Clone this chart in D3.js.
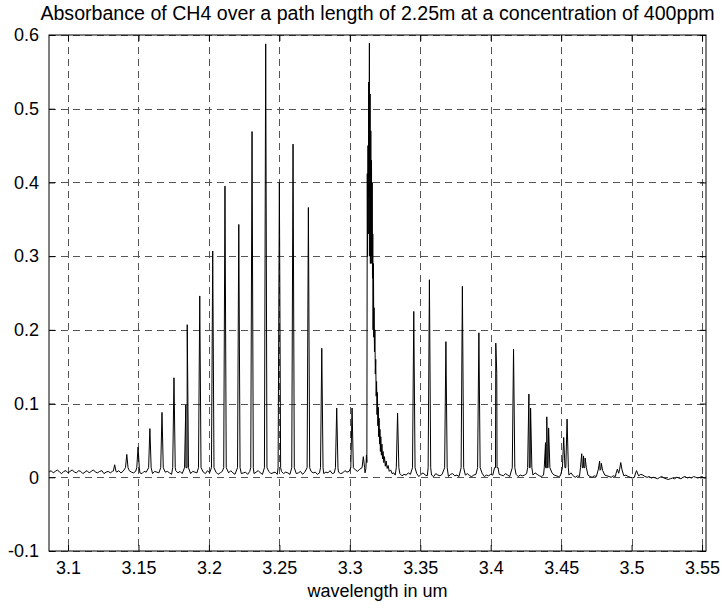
<!DOCTYPE html>
<html>
<head>
<meta charset="utf-8">
<script src="https://cdn.jsdelivr.net/npm/d3@7"></script>
<style>
  body { margin: 0; background: #fff; }
  text { font-family: Arial, "Liberation Sans", sans-serif; fill: #000; }
</style>
</head>
<body>
<svg id="chart"></svg>
<script>
const titleText = "Absorbance of CH4 over a path length of 2.25m at a concentration of 400ppm";
const xLabel = "wavelength in um";
const xTicks = [3.1, 3.15, 3.2, 3.25, 3.3, 3.35, 3.4, 3.45, 3.5, 3.55];
const yTicks = [-0.1, 0, 0.1, 0.2, 0.3, 0.4, 0.5, 0.6];
const xRange = [3.0865, 3.5528];
const yRange = [-0.1, 0.6];

// single absorption lines: [wavelength um, absorbance]
const lines = [
    [3.1331, 0.017], [3.1417, 0.031], [3.1497, 0.041], [3.1581, 0.066],
    [3.1667, 0.088], [3.1752, 0.135], [3.1836, 0.098], [3.1846, 0.207],
    [3.1935, 0.246], [3.2027, 0.307], [3.2114, 0.395], [3.2212, 0.343],
    [3.2306, 0.469], [3.2403, 0.588], [3.2500, 0.400], [3.2597, 0.452],
    [3.2706, 0.366], [3.2801, 0.175], [3.2907, 0.094], [3.3016, 0.094],
    [3.3096, 0.028], [3.3339, 0.087], [3.3454, 0.225], [3.3565, 0.268],
    [3.3682, 0.184], [3.3799, 0.259], [3.3916, 0.196], [3.4036, 0.182],
    [3.4043, 0.141], [3.4162, 0.174], [3.4271, 0.113], [3.4283, 0.094],
    [3.4389, 0.047], [3.4398, 0.082], [3.4411, 0.067], [3.4518, 0.054],
    [3.4542, 0.079], [3.4646, 0.032], [3.4659, 0.029], [3.4670, 0.026],
    [3.4773, 0.022], [3.4785, 0.019], [3.4899, 0.011], [3.4923, 0.020],
    [3.5035, 0.009]
];

// dense Q-branch around 3.31 um
const qBranch = [
    [3.3108, 0.006], [3.3114, 0.012], [3.3118, 0.030], [3.3121, 0.020],
    [3.3124, 0.412], [3.3126, 0.300], [3.3129, 0.450], [3.3131, 0.330],
    [3.3134, 0.536], [3.3136, 0.380], [3.3139, 0.589], [3.3141, 0.300],
    [3.3144, 0.520], [3.3146, 0.290], [3.3149, 0.470], [3.3151, 0.300],
    [3.3154, 0.430], [3.3156, 0.290], [3.3159, 0.400], [3.3161, 0.270],
    [3.3163, 0.330], [3.3165, 0.200], [3.3168, 0.290], [3.3170, 0.190],
    [3.3172, 0.230], [3.3175, 0.170], [3.3178, 0.200], [3.3181, 0.140],
    [3.3184, 0.160], [3.3187, 0.110], [3.3190, 0.130], [3.3193, 0.085],
    [3.3196, 0.115], [3.3199, 0.070], [3.3202, 0.095], [3.3205, 0.055],
    [3.3208, 0.080], [3.3211, 0.045], [3.3214, 0.065], [3.3217, 0.035],
    [3.3220, 0.055], [3.3224, 0.030], [3.3228, 0.045], [3.3232, 0.025],
    [3.3236, 0.035], [3.3241, 0.020], [3.3246, 0.028], [3.3252, 0.015],
    [3.3258, 0.022], [3.3265, 0.012], [3.3272, 0.016], [3.3280, 0.008],
    [3.3290, 0.010], [3.3300, 0.005], [3.3312, 0.006], [3.3322, 0.003]
];

// noisy baseline, sampled every 0.0015 um, values in milli-absorbance
const sampleStep = 0.0015;
const baseLeftFrom = 3.0865;
const baseLeft = [
    7, 9, 6, 8, 10, 7, 5, 8, 9, 6, 8, 10, 7, 6, 9, 8, 5, 7, 9, 6, 8, 10, 7, 6, 8, 9, 5, 7, 8, 6,
    8, 5, 7, 9, 6, 8, 6, 5, 9, 7, 6, 8, 10, 6, 5, 8, 7, 9, 6, 5, 8, 7, 6, 9, 5, 7, 8, 6, 4, 7,
    9, 6, 8, 5, 7, 6, 9, 5, 8, 7, 6, 4, 8, 7, 5, 9,
    6, 8, 5, 7, 4, 6, 8, 7, 5, 6, 9, 6, 4, 7, 8, 5, 6, 7, 4, 8, 6, 5, 7, 9, 6, 4, 7, 6, 8, 5,
    6, 7, 4, 6, 8, 5, 7, 6, 4, 8, 7, 5, 6, 8, 4, 7, 6, 5, 8, 6, 7, 4, 6, 8, 5, 7, 6, 9, 5, 6,
    8, 7, 5, 6, 9, 7, 8, 6, 9, 10, 8, 11, 10, 12
];
const baseRightFrom = 3.3340;
const baseRight = [
    3, 5, 2, 4, 3, 6, 4, 2, 3, 5, 1, 4, 6, 3, 2, 4, 3, 1, 5, 3, 2, 4, 2, 3, 1, 4, 5, 2, 3, 1,
    4, 2, 3, 5, 2, 1, 3, 4, 2, 3, 5, 1, 3, 2, 4, 3, 1, 2, 4, 3, 2, 5, 3, 1, 3, 2, 4, 1, 3, 2,
    3, 5, 2, 4, 3, 6, 4, 2, 1, 3, 2, 3, 4, 6, 3, 2, 1, 2, 3, 4, 2, 3, 6, 2,
    0, 2, 1, 3, 4, 2, 3, 1, 0, 2, 1, 2, 0, 1, 3, 2, 1, 0, 2, 1, 0, -1, 1, 2, 3, 1, 0, -1, 0, 1,
    2, 4, 3, 1, 0, 1, -1, 0, -1, -2, 0, 1, -1, -2, -3, -2, -1, -2, 0, -1, -2, 0, 1, -1, 0, -1,
    1, 0, -1, 0, 1, -1, 0
];

const width = 722, height = 608;
const margin = {top: 35, right: 16, bottom: 57, left: 49};
const footW = 0.0009;

const svg = d3.select("#chart")
    .attr("width", width)
    .attr("height", height);

svg.append("rect").attr("width", width).attr("height", height).attr("fill", "#fff");

const x = d3.scaleLinear().domain(xRange).range([margin.left, width - margin.right]);
const y = d3.scaleLinear().domain(yRange).range([height - margin.bottom, margin.top]);

// build the trace: baseline + spike per line + Q-branch cluster
let baseline = baseLeft.map((v, i) => [baseLeftFrom + i * sampleStep, v / 1000])
    .concat(baseRight.map((v, i) => [baseRightFrom + i * sampleStep, v / 1000]));
let pts = baseline
    .filter(b => b[0] < 3.3104 || b[0] > 3.3325)
    .filter(b => !lines.some(l => Math.abs(l[0] - b[0]) < footW * 1.4));
for (let l of lines) {
    let foot = Math.min(0.013, l[1] * 0.5);
    pts.push([l[0] - footW, foot], [l[0], l[1]], [l[0] + footW, foot]);
}
pts = pts.concat(qBranch).sort((a, b) => a[0] - b[0]);

// grid
const grid = svg.append("g")
    .attr("stroke", "#555")
    .attr("stroke-width", 1)
    .attr("stroke-dasharray", "7,5")
    .attr("shape-rendering", "crispEdges");

grid.selectAll(".gx").data(xTicks).join("line")
    .attr("x1", d => Math.round(x(d)) + 0.5).attr("x2", d => Math.round(x(d)) + 0.5)
    .attr("y1", y(yRange[1])).attr("y2", y(yRange[0]));

grid.selectAll(".gy").data(yTicks).join("line")
    .attr("y1", d => Math.round(y(d)) + 0.5).attr("y2", d => Math.round(y(d)) + 0.5)
    .attr("x1", x(xRange[0])).attr("x2", x(xRange[1]));

svg.append("clipPath").attr("id", "clip")
    .append("rect")
    .attr("x", x(xRange[0])).attr("y", y(yRange[1]))
    .attr("width", x(xRange[1]) - x(xRange[0]))
    .attr("height", y(yRange[0]) - y(yRange[1]));

const line = d3.line().x(d => x(d[0])).y(d => y(d[1]));

svg.append("path")
    .datum(pts)
    .attr("clip-path", "url(#clip)")
    .attr("fill", "none")
    .attr("stroke", "#000")
    .attr("stroke-width", 1)
    .attr("d", line);

// axes: inward ticks on all four sides, MATLAB style
const tick = 6;
const fontSize = 18;
const fmt = d => String(d);
const axB = svg.append("g").attr("transform", `translate(0,${y(yRange[0])})`)
    .call(d3.axisBottom(x).tickValues(xTicks).tickSize(-tick).tickPadding(tick + 4).tickFormat(fmt));
const axT = svg.append("g").attr("transform", `translate(0,${y(yRange[1])})`)
    .call(d3.axisTop(x).tickValues(xTicks).tickSize(-tick).tickFormat(""));
const axL = svg.append("g").attr("transform", `translate(${x(xRange[0])},0)`)
    .call(d3.axisLeft(y).tickValues(yTicks).tickSize(-tick).tickPadding(tick + 4).tickFormat(fmt));
const axR = svg.append("g").attr("transform", `translate(${x(xRange[1])},0)`)
    .call(d3.axisRight(y).tickValues(yTicks).tickSize(-tick).tickFormat(""));

for (let ax of [axB, axT, axL, axR]) {
    ax.selectAll(".tick line").attr("stroke", "#000");
    ax.selectAll("text").attr("font-size", fontSize).attr("font-family", "Arial, 'Liberation Sans', sans-serif");
}
svg.selectAll(".domain").remove();

svg.append("rect")
    .attr("x", x(xRange[0])).attr("y", y(yRange[1]))
    .attr("width", x(xRange[1]) - x(xRange[0]))
    .attr("height", y(yRange[0]) - y(yRange[1]))
    .attr("fill", "none")
    .attr("stroke", "#000")
    .attr("stroke-width", 1);

svg.append("text")
    .attr("x", (x(xRange[0]) + x(xRange[1])) / 2)
    .attr("y", 20)
    .attr("text-anchor", "middle")
    .attr("font-size", 19.6)
    .text(titleText);

svg.append("text")
    .attr("x", (x(xRange[0]) + x(xRange[1])) / 2)
    .attr("y", 597)
    .attr("text-anchor", "middle")
    .attr("font-size", fontSize)
    .text(xLabel);
</script>
</body>
</html>
